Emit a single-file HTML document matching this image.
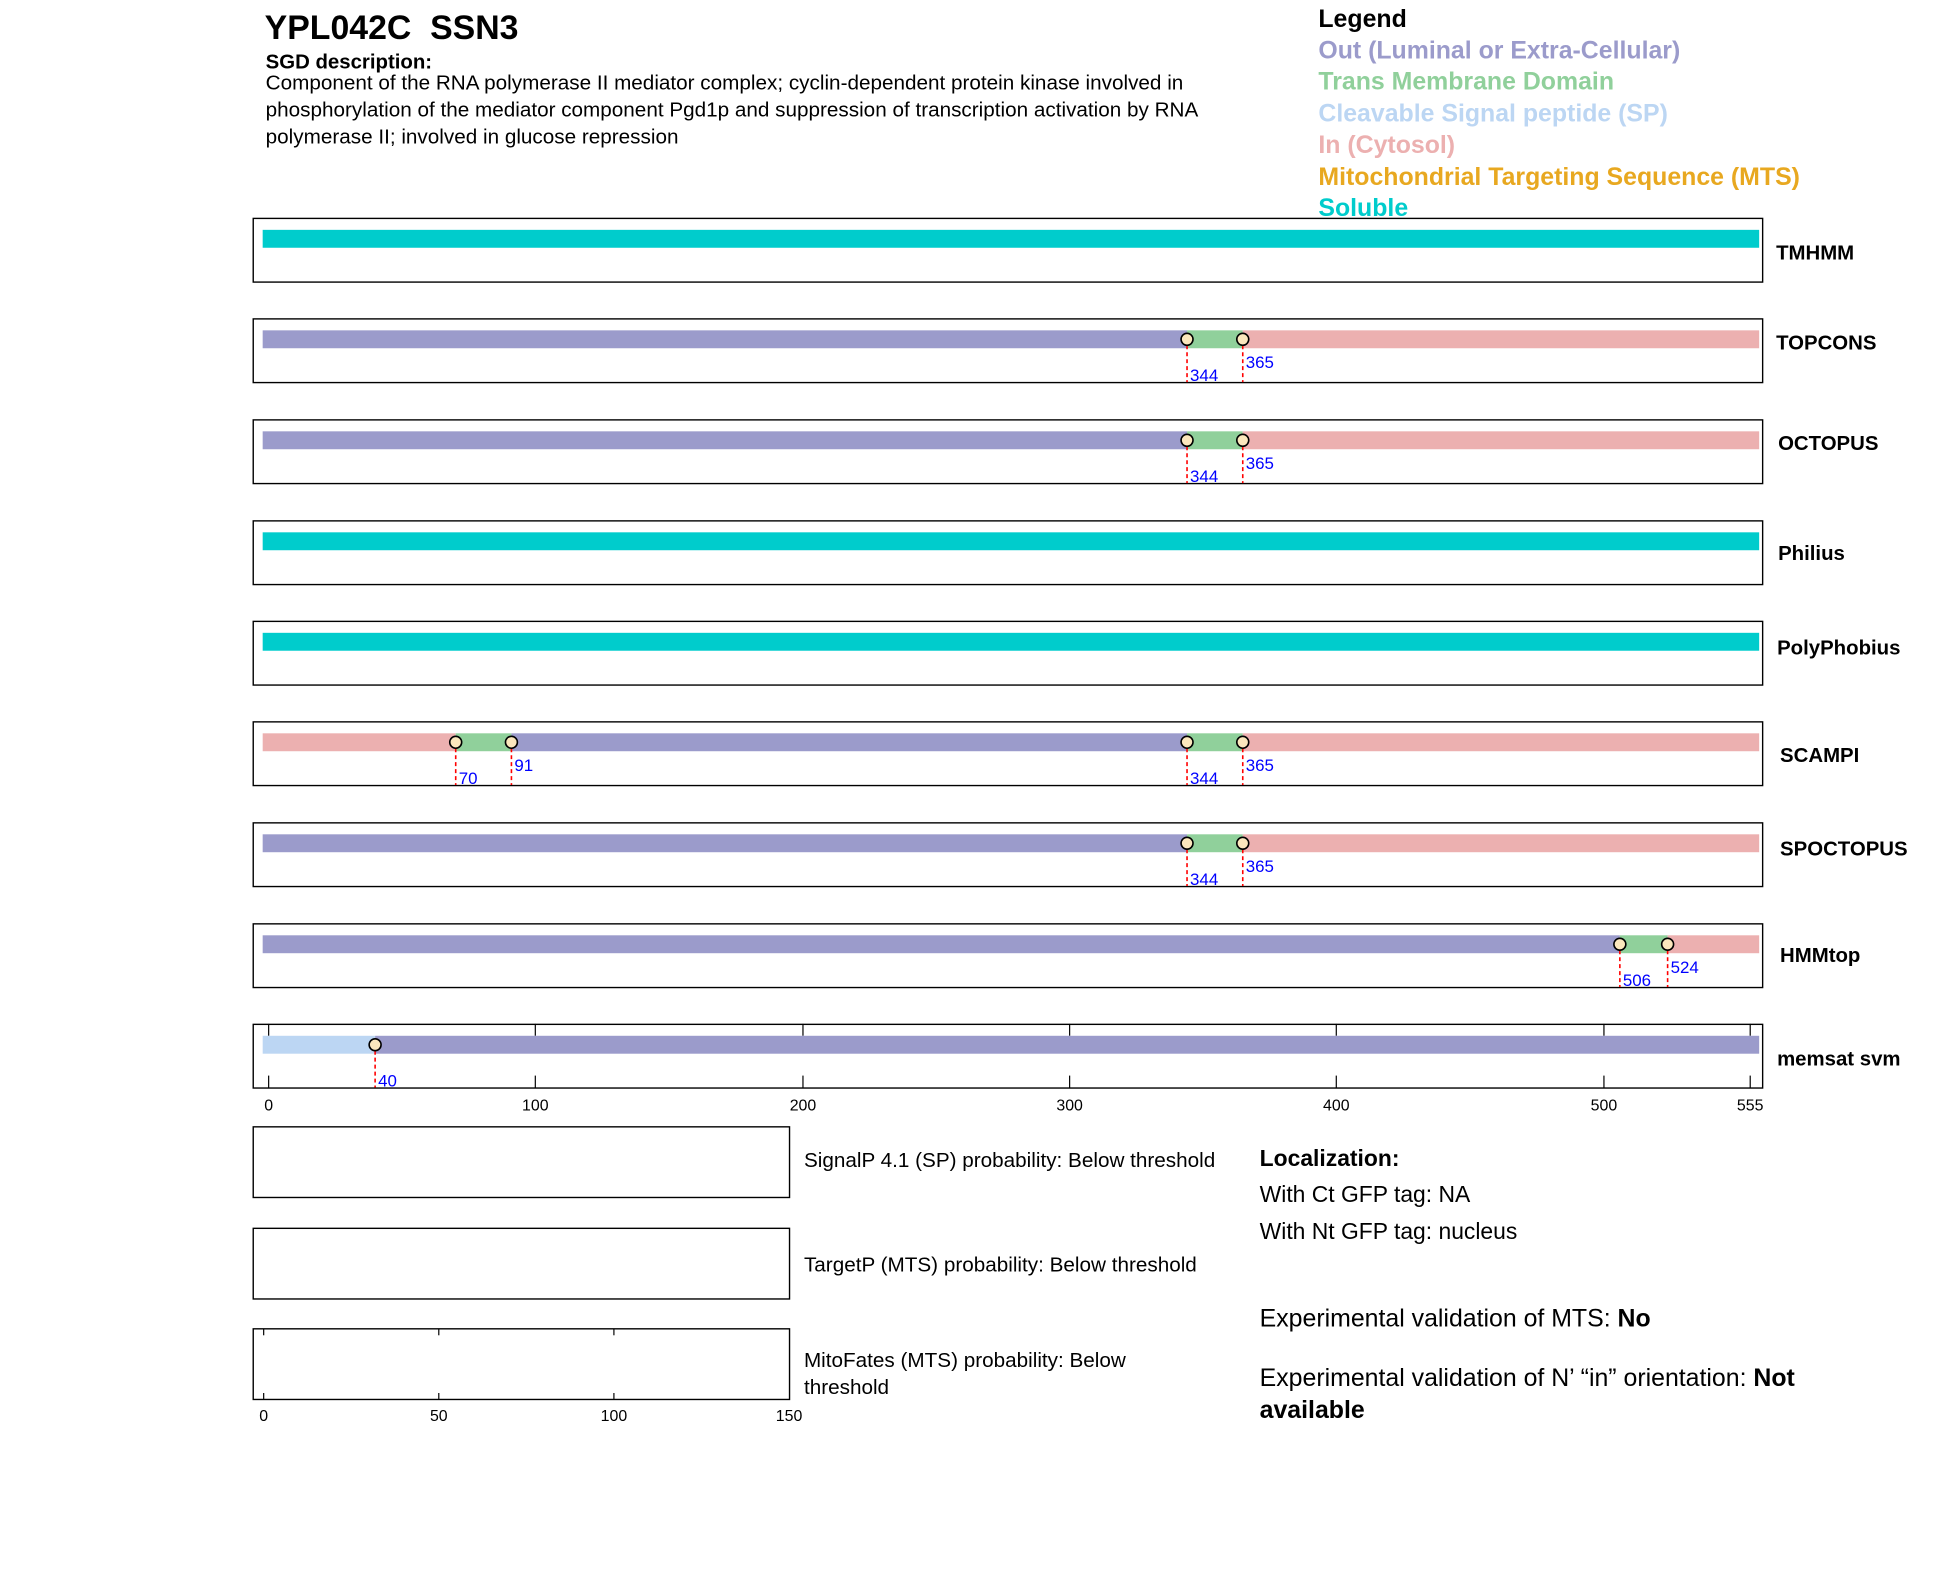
<!DOCTYPE html>
<html><head><meta charset="utf-8"><style>
html,body{margin:0;padding:0;background:#fff;}
svg{display:block;font-family:"Liberation Sans",Arial,sans-serif;}
</style></head><body>
<svg width="1950" height="1573" viewBox="0 0 1950 1573" xmlns="http://www.w3.org/2000/svg">
<defs>
<g id="mk"><line x1="0" y1="27" x2="0" y2="64" stroke="#f00" stroke-width="1.6" stroke-dasharray="4,3"/><circle cx="0" cy="21" r="6" fill="#fbe7bd" stroke="#000" stroke-width="1.6"/></g>
</defs>
<g transform="scale(0.995)">
<text x="266" y="39" font-size="34" font-weight="bold" xml:space="preserve" style="white-space:pre">YPL042C  SSN3</text>
<text x="267" y="69" font-size="20.5" font-weight="bold">SGD description:</text>
<text font-size="20.8" x="267"><tspan x="267" y="90">Component of the RNA polymerase II mediator complex; cyclin-dependent protein kinase involved in</tspan><tspan x="267" y="117">phosphorylation of the mediator component Pgd1p and suppression of transcription activation by RNA</tspan><tspan x="267" y="144">polymerase II; involved in glucose repression</tspan></text>
<g font-size="25" font-weight="bold">
<text x="1325" y="27" fill="#000">Legend</text>
<text x="1325" y="59" fill="#9b9bcb">Out (Luminal or Extra-Cellular)</text>
<text x="1325" y="90" fill="#90d09b">Trans Membrane Domain</text>
<text x="1325" y="122" fill="#bcd6f3">Cleavable Signal peptide (SP)</text>
<text x="1325" y="154" fill="#ecb0b0">In (Cytosol)</text>
<text x="1325" y="186" fill="#e8a820">Mitochondrial Targeting Sequence (MTS)</text>
<text x="1325" y="217" fill="#00cccc">Soluble</text>
</g>
<g font-size="20.5" font-weight="bold" dominant-baseline="central">
<text x="1785" y="255">TMHMM</text>
<text x="1785" y="345">TOPCONS</text>
<text x="1787" y="446">OCTOPUS</text>
<text x="1787" y="557">Philius</text>
<text x="1786" y="652">PolyPhobius</text>
<text x="1789" y="760">SCAMPI</text>
<text x="1789" y="854">SPOCTOPUS</text>
<text x="1789" y="961">HMMtop</text>
<text x="1786" y="1065">memsat svm</text>
</g>
<g transform="translate(0,219)"><rect x="254.5" y="0.5" width="1517" height="64" fill="none" stroke="#000" stroke-width="1.4"/><rect x="264" y="12" width="1504" height="18" fill="#00cccc"/></g>
<g transform="translate(0,320)"><rect x="254.5" y="0.5" width="1517" height="64" fill="none" stroke="#000" stroke-width="1.4"/>
<rect x="264" y="12" width="929" height="18" fill="#9b9bcb"/><rect x="1193" y="12" width="56" height="18" fill="#90d09b"/><rect x="1249" y="12" width="519" height="18" fill="#ecb0b0"/>
<use href="#mk" x="1193"/><use href="#mk" x="1249"/>
<g fill="#00f" font-size="17"><text x="1196" y="63">344</text><text x="1252" y="50">365</text></g></g>
<g transform="translate(0,421.5)"><rect x="254.5" y="0.5" width="1517" height="64" fill="none" stroke="#000" stroke-width="1.4"/>
<rect x="264" y="12" width="929" height="18" fill="#9b9bcb"/><rect x="1193" y="12" width="56" height="18" fill="#90d09b"/><rect x="1249" y="12" width="519" height="18" fill="#ecb0b0"/>
<use href="#mk" x="1193"/><use href="#mk" x="1249"/>
<g fill="#00f" font-size="17"><text x="1196" y="63">344</text><text x="1252" y="50">365</text></g></g>
<g transform="translate(0,523)"><rect x="254.5" y="0.5" width="1517" height="64" fill="none" stroke="#000" stroke-width="1.4"/><rect x="264" y="12" width="1504" height="18" fill="#00cccc"/></g>
<g transform="translate(0,624)"><rect x="254.5" y="0.5" width="1517" height="64" fill="none" stroke="#000" stroke-width="1.4"/><rect x="264" y="12" width="1504" height="18" fill="#00cccc"/></g>
<g transform="translate(0,725)"><rect x="254.5" y="0.5" width="1517" height="64" fill="none" stroke="#000" stroke-width="1.4"/>
<rect x="264" y="12" width="194" height="18" fill="#ecb0b0"/><rect x="458" y="12" width="56" height="18" fill="#90d09b"/><rect x="514" y="12" width="679" height="18" fill="#9b9bcb"/><rect x="1193" y="12" width="56" height="18" fill="#90d09b"/><rect x="1249" y="12" width="519" height="18" fill="#ecb0b0"/>
<use href="#mk" x="458"/><use href="#mk" x="514"/><use href="#mk" x="1193"/><use href="#mk" x="1249"/>
<g fill="#00f" font-size="17"><text x="461" y="63">70</text><text x="517" y="50">91</text><text x="1196" y="63">344</text><text x="1252" y="50">365</text></g></g>
<g transform="translate(0,826.5)"><rect x="254.5" y="0.5" width="1517" height="64" fill="none" stroke="#000" stroke-width="1.4"/>
<rect x="264" y="12" width="929" height="18" fill="#9b9bcb"/><rect x="1193" y="12" width="56" height="18" fill="#90d09b"/><rect x="1249" y="12" width="519" height="18" fill="#ecb0b0"/>
<use href="#mk" x="1193"/><use href="#mk" x="1249"/>
<g fill="#00f" font-size="17"><text x="1196" y="63">344</text><text x="1252" y="50">365</text></g></g>
<g transform="translate(0,928)"><rect x="254.5" y="0.5" width="1517" height="64" fill="none" stroke="#000" stroke-width="1.4"/>
<rect x="264" y="12" width="1364" height="18" fill="#9b9bcb"/><rect x="1628" y="12" width="48" height="18" fill="#90d09b"/><rect x="1676" y="12" width="92" height="18" fill="#ecb0b0"/>
<use href="#mk" x="1628"/><use href="#mk" x="1676"/>
<g fill="#00f" font-size="17"><text x="1631" y="63">506</text><text x="1679" y="50">524</text></g></g>
<g transform="translate(0,1029)"><rect x="254.5" y="0.5" width="1517" height="64" fill="none" stroke="#000" stroke-width="1.4"/>
<g stroke="#000" stroke-width="1.2">
<line x1="270" y1="0" x2="270" y2="12"/><line x1="538" y1="0" x2="538" y2="12"/><line x1="807" y1="0" x2="807" y2="12"/><line x1="1075" y1="0" x2="1075" y2="12"/><line x1="1343" y1="0" x2="1343" y2="12"/><line x1="1612" y1="0" x2="1612" y2="12"/><line x1="1759" y1="0" x2="1759" y2="12"/>
<line x1="270" y1="52" x2="270" y2="64"/><line x1="538" y1="52" x2="538" y2="64"/><line x1="807" y1="52" x2="807" y2="64"/><line x1="1075" y1="52" x2="1075" y2="64"/><line x1="1343" y1="52" x2="1343" y2="64"/><line x1="1612" y1="52" x2="1612" y2="64"/><line x1="1759" y1="52" x2="1759" y2="64"/>
</g>
<rect x="264" y="12" width="113" height="18" fill="#bcd6f3"/><rect x="377" y="12" width="1391" height="18" fill="#9b9bcb"/>
<use href="#mk" x="377"/>
<text x="380" y="63" fill="#00f" font-size="17">40</text>
<g font-size="16" text-anchor="middle"><text x="270" y="87">0</text><text x="538" y="87">100</text><text x="807" y="87">200</text><text x="1075" y="87">300</text><text x="1343" y="87">400</text><text x="1612" y="87">500</text><text x="1759" y="87">555</text></g>
</g>
<rect x="254.5" y="1132.5" width="539" height="71" fill="none" stroke="#000" stroke-width="1.4"/>
<rect x="254.5" y="1234.5" width="539" height="71" fill="none" stroke="#000" stroke-width="1.4"/>
<rect x="254.5" y="1335.5" width="539" height="71" fill="none" stroke="#000" stroke-width="1.4"/>
<g stroke="#000" stroke-width="1.2">
<line x1="265" y1="1336" x2="265" y2="1342"/><line x1="441" y1="1336" x2="441" y2="1342"/><line x1="617" y1="1336" x2="617" y2="1342"/>
<line x1="265" y1="1400" x2="265" y2="1406"/><line x1="441" y1="1400" x2="441" y2="1406"/><line x1="617" y1="1400" x2="617" y2="1406"/>
</g>
<g font-size="16" text-anchor="middle"><text x="265" y="1428">0</text><text x="441" y="1428">50</text><text x="617" y="1428">100</text><text x="793" y="1428">150</text></g>
<g font-size="20.8">
<text x="808" y="1173">SignalP 4.1 (SP) probability: Below threshold</text>
<text x="808" y="1278">TargetP (MTS) probability: Below threshold</text>
<text x="808" y="1374">MitoFates (MTS) probability: Below</text>
<text x="808" y="1401">threshold</text>
</g>
<text x="1266" y="1172" font-size="23" font-weight="bold">Localization:</text>
<text x="1266" y="1208" font-size="23">With Ct GFP tag: NA</text>
<text x="1266" y="1245" font-size="23">With Nt GFP tag: nucleus</text>
<text x="1266" y="1333" font-size="25">Experimental validation of MTS: <tspan font-weight="bold">No</tspan></text>
<text x="1266" y="1393" font-size="25">Experimental validation of N’ “in” orientation: <tspan font-weight="bold">Not</tspan></text>
<text x="1266" y="1425" font-size="25" font-weight="bold">available</text>
</g>
</svg>
</body></html>
